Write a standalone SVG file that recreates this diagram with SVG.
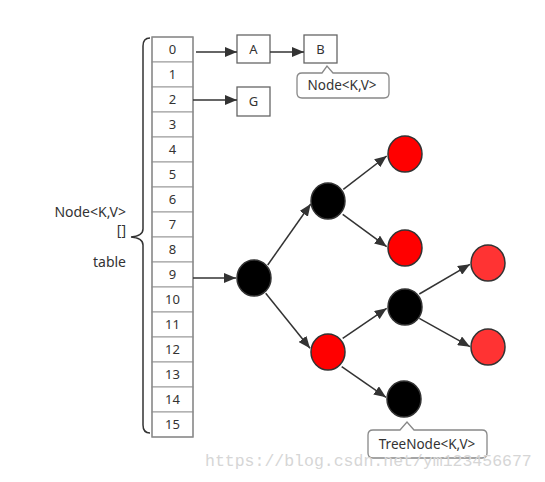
<svg xmlns="http://www.w3.org/2000/svg" width="545" height="482" viewBox="0 0 545 482">
<defs>
<marker id="arr" viewBox="0 0 12 10" refX="12" refY="5" markerWidth="12" markerHeight="10" markerUnits="userSpaceOnUse" orient="auto">
<path d="M0,0 L12,5 L0,10 Z" fill="#333"/>
</marker>
</defs>
<style>
text{font-family:"Noto Sans","Open Sans",sans-serif;fill:#333;font-size:13px}
.cell{fill:#fff;stroke:#999;stroke-width:1}
.box{fill:#fff;stroke:#666;stroke-width:1.3}
.c{text-anchor:middle}
.conn line{stroke:#333;stroke-width:1.5;fill:none;marker-end:url(#arr)}
.blk{fill:#000;stroke:#333;stroke-width:1.5}
.red{fill:#ff0000;stroke:#333;stroke-width:1.5}
.lred{fill:#ff3333;stroke:#333;stroke-width:1.5}
.call{fill:#fff;stroke:#888;stroke-width:1.3}
.lbl{font-size:14px}
.ct{font-size:13.5px}
.wm{font-family:"Liberation Mono","DejaVu Sans Mono",monospace;font-size:16.5px;fill:#d6d6d6}
</style>
<rect width="545" height="482" fill="#fff"/>

<g id="table">
<rect class="cell" x="152" y="37" width="41" height="25"/>
<rect class="cell" x="152" y="62" width="41" height="25"/>
<rect class="cell" x="152" y="87" width="41" height="25"/>
<rect class="cell" x="152" y="112" width="41" height="25"/>
<rect class="cell" x="152" y="137" width="41" height="25"/>
<rect class="cell" x="152" y="162" width="41" height="25"/>
<rect class="cell" x="152" y="187" width="41" height="25"/>
<rect class="cell" x="152" y="212" width="41" height="25"/>
<rect class="cell" x="152" y="237" width="41" height="25"/>
<rect class="cell" x="152" y="262" width="41" height="25"/>
<rect class="cell" x="152" y="287" width="41" height="25"/>
<rect class="cell" x="152" y="312" width="41" height="25"/>
<rect class="cell" x="152" y="337" width="41" height="25"/>
<rect class="cell" x="152" y="362" width="41" height="25"/>
<rect class="cell" x="152" y="387" width="41" height="25"/>
<rect class="cell" x="152" y="412" width="41" height="25"/>
<rect x="152" y="37" width="41" height="400" fill="none" stroke="#888" stroke-width="1.3"/>
<text class="c" x="172.5" y="54">0</text>
<text class="c" x="172.5" y="79">1</text>
<text class="c" x="172.5" y="104">2</text>
<text class="c" x="172.5" y="129">3</text>
<text class="c" x="172.5" y="154">4</text>
<text class="c" x="172.5" y="179">5</text>
<text class="c" x="172.5" y="204">6</text>
<text class="c" x="172.5" y="229">7</text>
<text class="c" x="172.5" y="254">8</text>
<text class="c" x="172.5" y="279">9</text>
<text class="c" x="172.5" y="304">10</text>
<text class="c" x="172.5" y="329">11</text>
<text class="c" x="172.5" y="354">12</text>
<text class="c" x="172.5" y="379">13</text>
<text class="c" x="172.5" y="404">14</text>
<text class="c" x="172.5" y="429">15</text>
</g>

<g id="brace">
<path d="M150,38 Q143,38 143,46 L143,229 Q143,236 131,237 Q143,238 143,245 L143,425 Q143,433 150,433" fill="none" stroke="#333" stroke-width="1.5"/>
<text class="lbl" x="126" y="217" text-anchor="end">Node&lt;K,V&gt;</text>
<text class="lbl" x="126" y="235" text-anchor="end">[]</text>
<text class="lbl" x="126" y="267" text-anchor="end">table</text>
</g>

<g id="nodeA"><rect class="box" x="237" y="35" width="33" height="28"/><text class="c" x="253.5" y="54">A</text></g>
<g id="nodeB"><rect class="box" x="304" y="35" width="33" height="28"/><text class="c" x="320.5" y="54">B</text></g>
<g id="nodeG"><rect class="box" x="237" y="87" width="33" height="29"/><text class="c" x="253.5" y="106">G</text></g>

<g id="callout-node">
<path class="call" d="M302,73 L322,73 L327,66 L333,73 L384,73 Q389,73 389,78 L389,93 Q389,98 384,98 L302,98 Q297,98 297,93 L297,78 Q297,73 302,73 Z"/>
<text class="c ct" x="342" y="90">Node&lt;K,V&gt;</text>
</g>

<g id="tree-root"><ellipse class="blk" cx="254" cy="278" rx="17" ry="18"/></g>
<g id="tree-n1"><ellipse class="blk" cx="328" cy="201" rx="17" ry="18"/></g>
<g id="tree-n2"><ellipse class="red" cx="328" cy="352" rx="17" ry="18"/></g>
<g id="tree-n3"><ellipse class="red" cx="405" cy="154" rx="17" ry="18"/></g>
<g id="tree-n4"><ellipse class="red" cx="405" cy="248" rx="17" ry="18"/></g>
<g id="tree-n5"><ellipse class="blk" cx="405" cy="307" rx="17" ry="18"/></g>
<g id="tree-n6"><ellipse class="blk" cx="404" cy="399" rx="17" ry="18"/></g>
<g id="tree-n7"><ellipse class="lred" cx="488" cy="263" rx="17" ry="18"/></g>
<g id="tree-n8"><ellipse class="lred" cx="488" cy="347" rx="17" ry="18"/></g>

<g id="callout-treenode">
<path class="call" d="M373,430 L400,430 L407,422 L414,430 L482,430 Q487,430 487,435 L487,453 Q487,458 482,458 L373,458 Q368,458 368,453 L368,435 Q368,430 373,430 Z"/>
<text class="c ct" x="427" y="449">TreeNode&lt;K,V&gt;</text>
</g>

<g id="connectors" class="conn">
<line x1="196" y1="52" x2="237" y2="52"/>
<line x1="270" y1="52" x2="304" y2="52"/>
<line x1="193" y1="100" x2="237" y2="100"/>
<line x1="193" y1="278" x2="236" y2="278"/>
<line x1="267.7" y1="265" x2="310.7" y2="204"/>
<line x1="343.3" y1="189.3" x2="386.7" y2="156"/>
<line x1="342.7" y1="214.3" x2="386.7" y2="246.7"/>
<line x1="265.7" y1="293.3" x2="310" y2="348.3"/>
<line x1="342.7" y1="338.3" x2="386.7" y2="308.3"/>
<line x1="419.3" y1="294" x2="470" y2="264.3"/>
<line x1="419.3" y1="318.3" x2="470" y2="346.7"/>
<line x1="341.7" y1="366.7" x2="386" y2="397.3"/>
</g>

<text class="wm" x="205" y="466">https://blog.csdn.net/ym123456677</text>
</svg>
